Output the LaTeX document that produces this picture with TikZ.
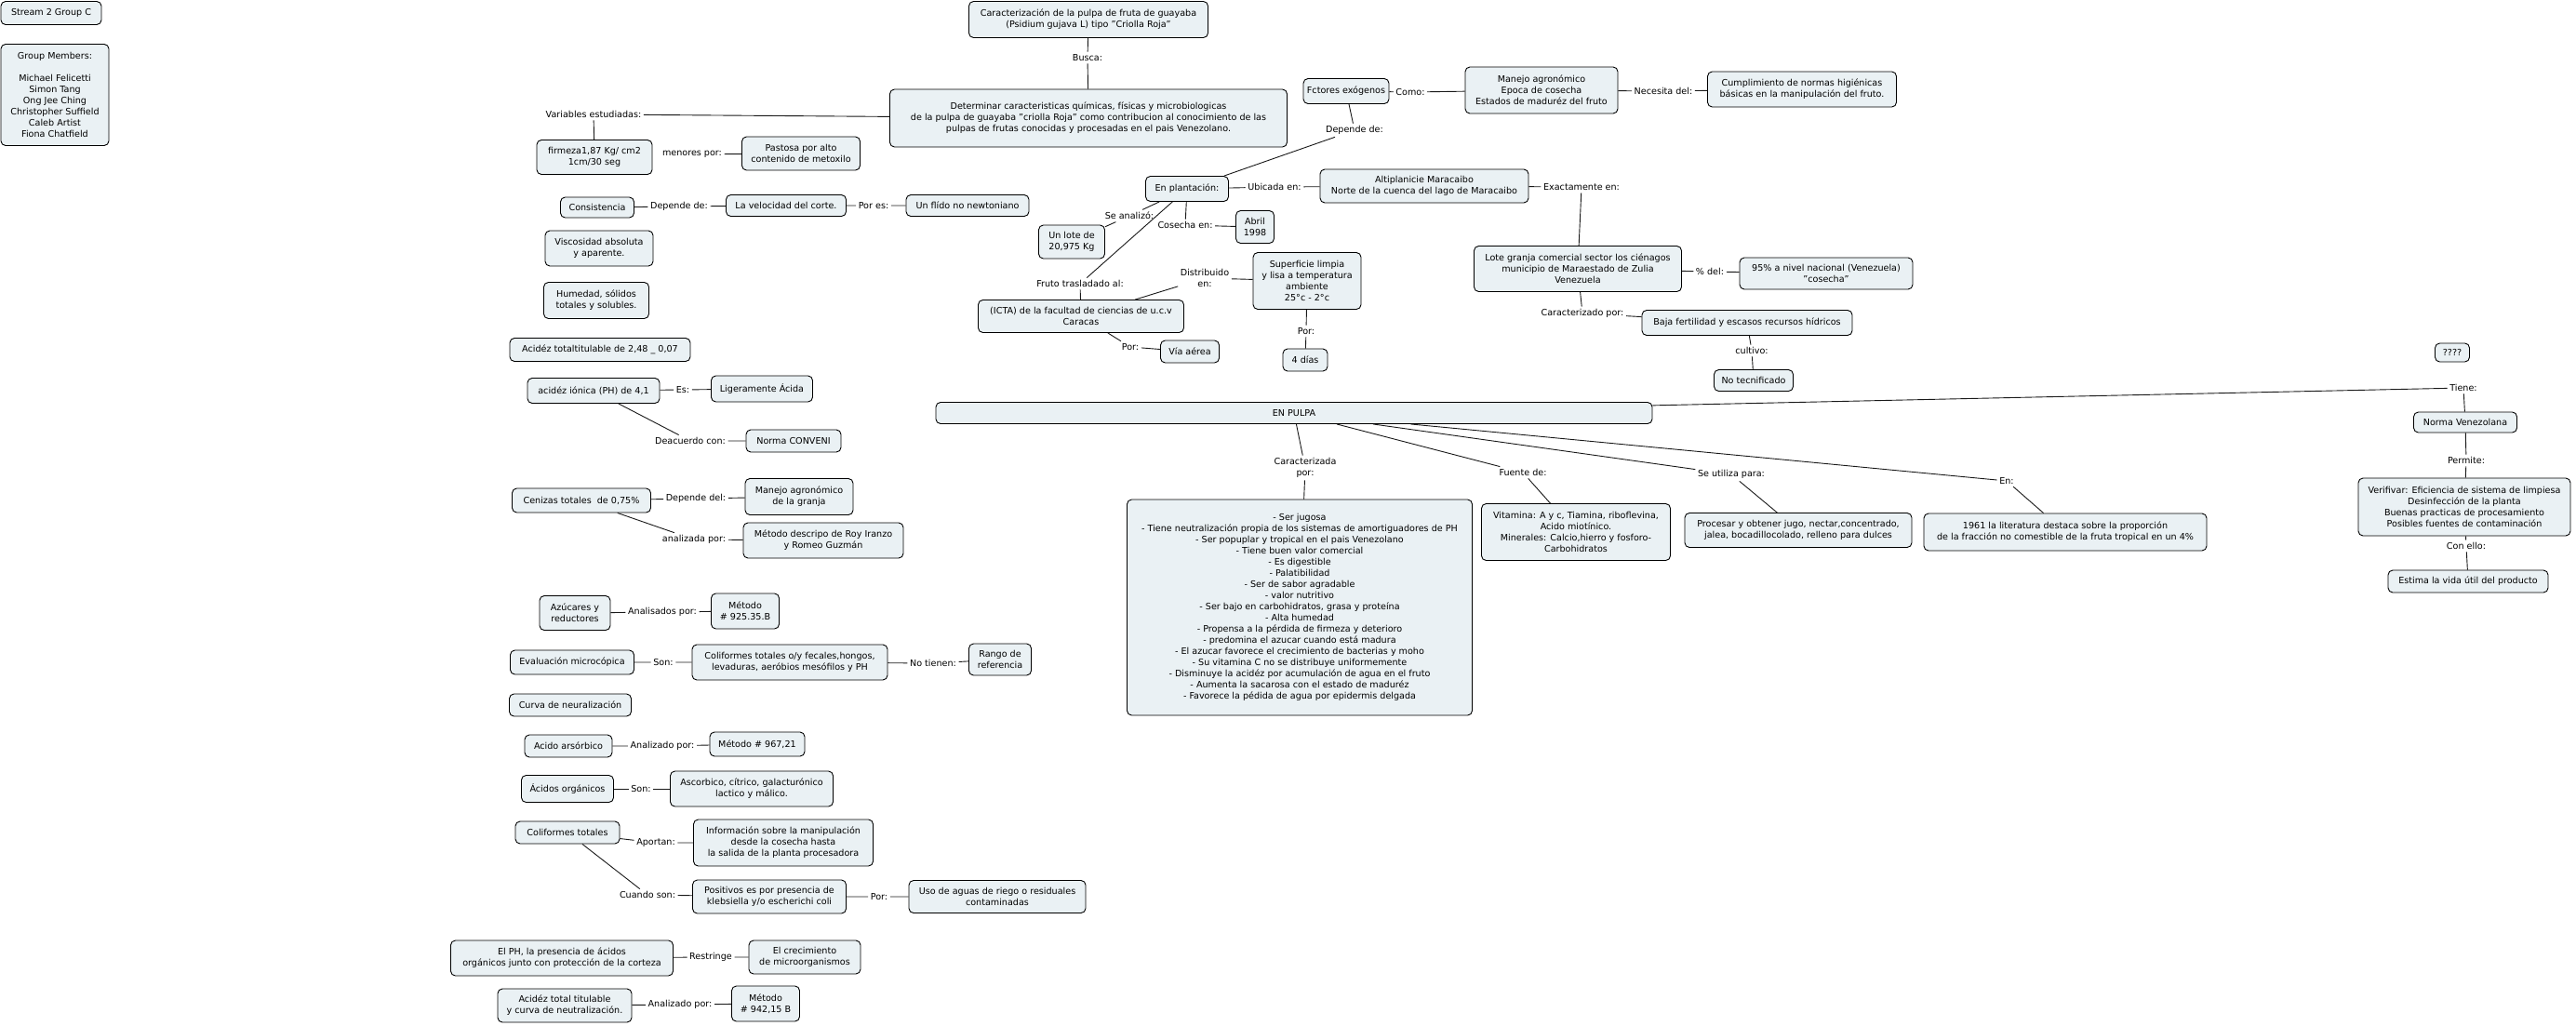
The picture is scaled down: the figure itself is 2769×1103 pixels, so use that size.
\documentclass[tikz,border=0pt]{standalone}
\usepackage{fontspec}
\setmainfont{DejaVu Sans}
\usepackage{tikz}
\usetikzlibrary{positioning}
\definecolor{cmapfill}{RGB}{234,241,244}
\tikzset{
  concept/.style={draw, line width=0.9pt, rounded corners=5pt, fill=cmapfill,
    align=center, inner sep=2pt, font=\fontsize{9.6}{12}\selectfont},
  phrase/.style={inner sep=2.5pt, align=center, font=\fontsize{9.6}{12}\selectfont},
  wh/.style 2 args={minimum width=#1, minimum height=#2},
  link/.style={draw=black!90, line width=0.9pt}
}

\begin{document}
\begin{tikzpicture}[x=1pt,y=-1pt]
\useasboundingbox (0,0) rectangle (2769,1103);

\node[concept, wh={108}{25}] (stream) at (55,14) {Stream 2 Group C};
\node[concept, wh={116}{109}] (members) at (59,102) {Group Members:\\[12pt]Michael Felicetti\\Simon Tang\\Ong Jee Ching\\Christopher Suffield\\Caleb Artist\\Fiona Chatfield};

\node[concept, wh={257}{39}] (titulo) at (1170,21) {Caracterización de la pulpa de fruta de guayaba\\(Psidium gujava L) tipo "Criolla Roja"};
\node[concept, wh={427}{62}] (determinar) at (1170,127) {Determinar caracteristicas químicas, físicas y microbiologicas\\de la pulpa de guayaba "criolla Roja" como contribucion al conocimiento de las\\pulpas de frutas conocidas y procesadas en el pais Venezolano.};
\node[phrase] (busca) at (1169,62) {Busca:};
\node[phrase] (variables) at (638,123) {Variables estudiadas:};

\node[concept, wh={124}{37}] (firmeza) at (639,169) {firmeza1,87 Kg/ cm2\\1cm/30 seg};
\node[phrase] (menores) at (744,166) {menores por:};
\node[concept, wh={127}{36}] (pastosa) at (861,165) {Pastosa por alto\\contenido de metoxilo};
\node[concept, wh={79}{22}] (consistencia) at (642,223) {Consistencia};
\node[phrase] (dependeA) at (730,222) {Depende de:};
\node[concept, wh={129}{23}] (velocidad) at (845,221) {La velocidad del corte.};
\node[phrase] (pores) at (939,221) {Por es:};
\node[concept, wh={132}{23}] (fluido) at (1040,221) {Un flído no newtoniano};
\node[concept, wh={116}{38}] (viscosidad) at (644,267) {Viscosidad absoluta\\y aparente.};
\node[concept, wh={113}{39}] (humedad) at (641,323) {Humedad, sólidos\\totales y solubles.};
\node[concept, wh={194}{25}] (acideztt) at (645,376) {Acidéz totaltitulable de 2,48 \_ 0,07};
\node[concept, wh={142}{27}] (acidezion) at (638,420) {acidéz iónica (PH) de 4,1};
\node[phrase] (es) at (734,419) {Es:};
\node[concept, wh={109}{28}] (ligeramente) at (819,418) {Ligeramente Ácida};
\node[phrase] (deacuerdo) at (742,474) {Deacuerdo con:};
\node[concept, wh={102}{24}] (conveni) at (853,474) {Norma CONVENI};
\node[concept, wh={149}{26}] (cenizas) at (625,538) {Cenizas totales\ \ de 0,75\%};
\node[phrase] (dependedel) at (748,536) {Depende del:};
\node[concept, wh={116}{39}] (manejogranja) at (859,534) {Manejo agronómico\\de la granja};
\node[phrase] (analizada) at (746,580) {analizada por:};
\node[concept, wh={172}{38}] (metodoroy) at (885,581) {Método descripo de Roy Iranzo\\y Romeo Guzmán};
\node[concept, wh={76}{37}] (azucares) at (618,659) {Azúcares y\\reductores};
\node[phrase] (analisados) at (712,658) {Analisados por:};
\node[concept, wh={73}{38}] (metodoA) at (801,657) {Método\\\# 925.35.B};
\node[concept, wh={133}{26}] (evaluacion) at (615,712) {Evaluación microcópica};
\node[phrase] (sonA) at (713,712) {Son:};
\node[concept, wh={210}{38}] (coliformesfh) at (849,712) {Coliformes totales o/y fecales,hongos,\\levaduras, aeróbios mesófilos y PH};
\node[phrase] (notienen) at (1003,713) {No tienen:};
\node[concept, wh={67}{34}] (rango) at (1075,709) {Rango de\\referencia};
\node[concept, wh={131}{24}] (curva) at (613,758) {Curva de neuralización};
\node[concept, wh={94}{24}] (arsorbico) at (611,802) {Acido arsórbico};
\node[phrase] (analizadoA) at (712,802) {Analizado por:};
\node[concept, wh={102}{26}] (metodoB) at (814,800) {Método \# 967,21};
\node[concept, wh={99}{29}] (acidosorg) at (610,848) {Ácidos orgánicos};
\node[phrase] (sonB) at (689,848) {Son:};
\node[concept, wh={175}{38}] (ascorbico) at (808,848) {Ascorbico, cítrico, galacturónico\\lactico y málico.};
\node[concept, wh={112}{24}] (coliformes) at (610,895) {Coliformes totales};
\node[phrase] (aportan) at (705,906) {Aportan:};
\node[concept, wh={193}{50}] (informacion) at (842,906) {Información sobre la manipulación\\desde la cosecha hasta\\ la salida de la planta procesadora};
\node[phrase] (cuandoson) at (696,962) {Cuando son:};
\node[concept, wh={165}{36}] (positivos) at (827,964) {Positivos es por presencia de\\klebsiella y/o escherichi coli};
\node[phrase] (porA) at (945,964) {Por:};
\node[concept, wh={190}{35}] (usoaguas) at (1072,964) {Uso de aguas de riego o residuales\\contaminadas};
\node[concept, wh={239}{38}] (elph) at (604,1030) {El PH, la presencia de ácidos\\orgánicos junto con protección de la corteza};
\node[phrase] (restringe) at (764,1029) {Restringe};
\node[concept, wh={120}{36}] (crecimiento) at (865,1029) {El crecimiento\\de microorganismos};
\node[concept, wh={144}{36}] (acidezcurva) at (607,1081) {Acidéz total titulable\\y curva de neutralización.};
\node[phrase] (analizadoB) at (731,1080) {Analizado por:};
\node[concept, wh={73}{38}] (metodoC) at (823,1079) {Método\\\# 942,15 B};

\node[concept, wh={92}{27}] (fctores) at (1447,98) {Fctores exógenos};
\node[phrase] (como) at (1516,99) {Como:};
\node[concept, wh={164}{50}] (manejo) at (1657,97) {Manejo agronómico\\Epoca de cosecha\\Estados de maduréz del fruto};
\node[phrase] (necesita) at (1788,98) {Necesita del:};
\node[concept, wh={203}{38}] (cumplimiento) at (1937,96) {Cumplimiento de normas higiénicas\\básicas en la manipulación del fruto.};
\node[phrase] (dependeB) at (1456,140) {Depende de:};
\node[concept, wh={89}{27}] (plantacion) at (1276,203) {En plantación:};
\node[phrase] (ubicada) at (1370,201) {Ubicada en:};
\node[concept, wh={224}{36}] (altiplanicie) at (1531,200) {Altiplanicie Maracaibo\\Norte de la cuenca del lago de Maracaibo};
\node[phrase] (seanalizo) at (1214,232) {Se analizó:};
\node[concept, wh={71}{36}] (lotekg) at (1152,260) {Un lote de\\20,975 Kg};
\node[phrase] (cosecha) at (1274,242) {Cosecha en:};
\node[concept, wh={41}{35}] (abril) at (1349,244) {Abril\\1998};
\node[phrase] (fruto) at (1161,305) {Fruto trasladado al:};
\node[concept, wh={221}{35}] (icta) at (1162,340) {(ICTA) de la facultad de ciencias de u.c.v\\Caracas};
\node[phrase] (distribuido) at (1295,299) {Distribuido\\en:};
\node[concept, wh={116}{61}] (superficie) at (1405,302) {Superficie limpia\\y lisa a temperatura\\ambiente\\25°c - 2°c};
\node[phrase] (porB) at (1404,356) {Por:};
\node[concept, wh={48}{24}] (dias) at (1403,387) {4 días};
\node[phrase] (porC) at (1215,373) {Por:};
\node[concept, wh={63}{24}] (viaaerea) at (1279,378) {Vía aérea};
\node[phrase] (exactamente) at (1700,201) {Exactamente en:};
\node[concept, wh={223}{49}] (lote) at (1696,289) {Lote granja comercial sector los ciénagos\\municipio de Maraestado de Zulia\\Venezuela};
\node[phrase] (pordel) at (1838,292) {\% del:};
\node[concept, wh={186}{34}] (porcentaje) at (1963,294) {95\% a nivel nacional (Venezuela)\\"cosecha"};
\node[phrase] (caracterizado) at (1701,337) {Caracterizado por:};
\node[concept, wh={226}{27}] (baja) at (1878,347) {Baja fertilidad y escasos recursos hídricos};
\node[phrase] (cultivo) at (1883,377) {cultivo:};
\node[concept, wh={85}{23}] (notecn) at (1885,409) {No tecnificado};

\node[concept, wh={770}{23}] (enpulpa) at (1391,444) {EN PULPA};
\node[phrase] (caracterizada) at (1403,503) {Caracterizada\\por:};
\node[concept, wh={371}{232}] (lista) at (1397,653) {- Ser jugosa\\- Tiene neutralización propia de los sistemas de amortiguadores de PH\\- Ser popuplar y tropical en el pais Venezolano\\- Tiene buen valor comercial\\- Es digestible\\- Palatibilidad\\- Ser de sabor agradable\\- valor nutritivo\\- Ser bajo en carbohidratos, grasa y proteína\\- Alta humedad\\- Propensa a la pérdida de firmeza y deterioro\\- predomina el azucar cuando está madura\\- El azucar favorece el crecimiento de bacterias y moho\\- Su vitamina C no se distribuye uniformemente\\- Disminuye la acidéz por acumulación de agua en el fruto\\- Aumenta la sacarosa con el estado de maduréz\\- Favorece la pédida de agua por epidermis delgada};
\node[phrase] (fuente) at (1637,508) {Fuente de:};
\node[concept, wh={203}{61}] (vitamina) at (1694,572) {Vitamina: A y c, Tiamina, riboflevina,\\Acido miotínico.\\Minerales: Calcio,hierro y fosforo-\\Carbohidratos};
\node[phrase] (seutiliza) at (1861,510) {Se utiliza para:};
\node[concept, wh={244}{37}] (procesar) at (1933,570) {Procesar y obtener jugo, nectar,concentrado,\\jalea, bocadillocolado, relleno para dulces};
\node[phrase] (en) at (2157,517) {En:};
\node[concept, wh={304}{40}] (literatura) at (2220,572) {1961 la literatura destaca sobre la proporción\\de la fracción no comestible de la fruta tropical en un 4\%};

\node[concept, wh={37}{20}] (interrog) at (2636,379) {????};
\node[phrase] (tiene) at (2648,417) {Tiene:};
\node[concept, wh={111}{22}] (normaven) at (2650,454) {Norma Venezolana};
\node[phrase] (permite) at (2651,495) {Permite:};
\node[concept, wh={228}{62}] (verificar) at (2649,545) {Verifivar: Eficiencia de sistema de limpiesa\\Desinfección de la planta\\Buenas practicas de procesamiento\\Posibles fuentes de contaminación};
\node[phrase] (conello) at (2651,587) {Con ello:};
\node[concept, wh={172}{24}] (estima) at (2653,625) {Estima la vida útil del producto};

\draw[link] (titulo) -- (busca) -- (determinar);
\draw[link] (determinar) -- (variables) -- (firmeza);
\draw[link] (menores) -- (pastosa);
\draw[link] (consistencia) -- (dependeA) -- (velocidad) -- (pores) -- (fluido);
\draw[link] (acidezion) -- (es) -- (ligeramente);
\draw[link] (acidezion) -- (deacuerdo) -- (conveni);
\draw[link] (cenizas) -- (dependedel) -- (manejogranja);
\draw[link] (cenizas) -- (analizada) -- (metodoroy);
\draw[link] (azucares) -- (analisados) -- (metodoA);
\draw[link] (evaluacion) -- (sonA) -- (coliformesfh) -- (notienen) -- (rango);
\draw[link] (arsorbico) -- (analizadoA) -- (metodoB);
\draw[link] (acidosorg) -- (sonB) -- (ascorbico);
\draw[link] (coliformes) -- (aportan) -- (informacion);
\draw[link] (coliformes) -- (cuandoson) -- (positivos) -- (porA) -- (usoaguas);
\draw[link] (elph) -- (restringe) -- (crecimiento);
\draw[link] (acidezcurva) -- (analizadoB) -- (metodoC);

\draw[link] (fctores) -- (como) -- (manejo) -- (necesita) -- (cumplimiento);
\draw[link] (fctores) -- (dependeB) -- (plantacion);
\draw[link] (plantacion) -- (ubicada) -- (altiplanicie) -- (exactamente) -- (lote);
\draw[link] (plantacion) -- (seanalizo) -- (lotekg);
\draw[link] (plantacion) -- (cosecha) -- (abril);
\draw[link] (plantacion) -- (fruto) -- (icta);
\draw[link] (icta) -- (distribuido) -- (superficie) -- (porB) -- (dias);
\draw[link] (icta) -- (porC) -- (viaaerea);
\draw[link] (lote) -- (pordel) -- (porcentaje);
\draw[link] (lote) -- (caracterizado) -- (baja) -- (cultivo) -- (notecn);

\draw[link] (enpulpa) -- (caracterizada) -- (lista);
\draw[link] (enpulpa) -- (fuente) -- (vitamina);
\draw[link] (enpulpa) -- (seutiliza) -- (procesar);
\draw[link] (enpulpa) -- (en) -- (literatura);
\draw[link] (enpulpa) -- (tiene) -- (normaven) -- (permite) -- (verificar) -- (conello) -- (estima);
\end{tikzpicture}
\end{document}
